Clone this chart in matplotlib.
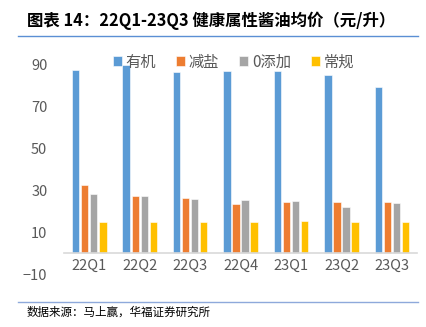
import matplotlib.pyplot as plt
import numpy as np

plt.rcParams['font.family'] = ['Noto Sans CJK SC', 'DejaVu Sans']

quarters = ["22Q1", "22Q2", "22Q3", "22Q4", "23Q1", "23Q2", "23Q3"]
organic = [87.2, 89.6, 86.4, 86.7, 86.7, 84.7, 79.3]
low_salt = [32.2, 27.3, 26.2, 23.5, 24.2, 24.5, 24.2]
zero_add = [28.0, 27.0, 25.9, 25.1, 24.6, 21.9, 23.7]
regular = [14.7, 14.7, 14.8, 14.7, 15.2, 14.7, 14.7]
series_names = ["有机", "减盐", "0添加", "常规"]
colors = ["#5B9BD5", "#ED7D31", "#A5A5A5", "#FFC000"]

fig = plt.figure(figsize=(4.27, 3.27), dpi=100)
ax = fig.add_axes([0.150, 0.162, 0.827, 0.642])

x = np.arange(len(quarters))
slot = 0.179
bw = 0.146
for i, (vals, name, c) in enumerate(zip([organic, low_salt, zero_add, regular], series_names, colors)):
    ax.bar(x + (i - 1.5) * slot, vals, bw, color=c, label=name,
           edgecolor="white", linewidth=0.4)

ax.set_xlim(-0.5, len(quarters) - 0.5)
ax.set_ylim(-10, 90)
ax.set_yticks([-10, 10, 30, 50, 70, 90])
ax.set_xticks(x)
ax.set_xticklabels(quarters)

for s in ["top", "right", "left"]:
    ax.spines[s].set_visible(False)
ax.spines["bottom"].set_position(("data", 0))
ax.spines["bottom"].set_color("#D9D9D9")
ax.spines["bottom"].set_linewidth(1.2)
ax.tick_params(axis="both", length=0, labelsize=10.5, labelcolor="#595959")
ax.tick_params(axis="x", pad=4)
ax.tick_params(axis="y", pad=12)

ax.legend(loc="upper center", bbox_to_anchor=(0.48, 1.115), ncol=4, frameon=False,
          fontsize=11, handlelength=0.6, handleheight=0.6, handletextpad=0.25,
          columnspacing=1.3, labelcolor="#595959")

# title and footer lines
fig.text(0.064, 0.936, "图表 14：22Q1-23Q3 健康属性酱油均价（元/升）",
         fontsize=11.8, fontweight="bold", va="center", ha="left")
fig.add_artist(plt.Line2D([0.042, 0.979], [0.89, 0.89], color="#5B8FD4", linewidth=1.0))
fig.add_artist(plt.Line2D([0.042, 0.979], [0.076, 0.076], color="#8EA9DB", linewidth=1.0))
fig.text(0.063, 0.045, "数据来源：马上赢，华福证券研究所", fontsize=8.3, va="center", ha="left")

fig.savefig("out.png", dpi=100)
